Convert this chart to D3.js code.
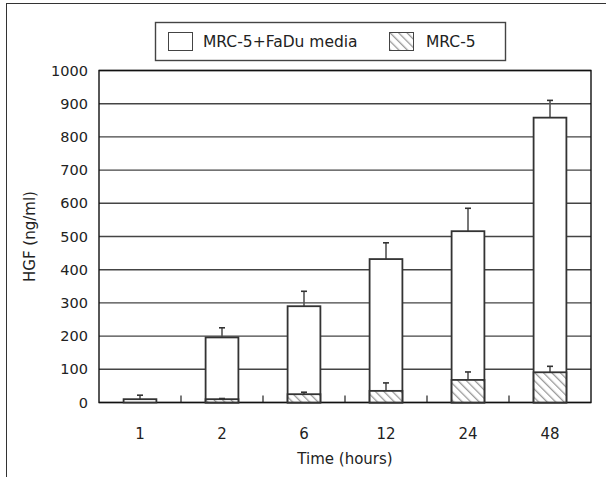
<!DOCTYPE html>
<html>
<head>
<meta charset="utf-8">
<script src="https://cdn.jsdelivr.net/npm/d3@7"></script>
<style>
  body { margin: 0; background: #fff; }
  svg { display: block; font-family: "DejaVu Sans", sans-serif; }
</style>
</head>
<body>
<div id="chart"></div>
<script>
// ========================
// Data
// ========================
const categories = ["1", "2", "6", "12", "24", "48"];
const coCultureValues = [10, 196, 290, 432, 516, 858];
const coCultureErrors = [12, 29, 45, 49, 69, 52];
const mrc5Values = [null, 10, 25, 35, 68, 91];
const mrc5Errors = [null, 2, 6, 24, 24, 18];
const yTicks = [0, 100, 200, 300, 400, 500, 600, 700, 800, 900, 1000];
const legendLabels = ["MRC-5+FaDu media", "MRC-5"];

// ========================
// Setup
// ========================
const width = 606;
const height = 477;
const plot = { left: 99, right: 591, top: 70.5, bottom: 402.5 };

const svg = d3.select("#chart").append("svg")
    .attr("width", width)
    .attr("height", height);

const defs = svg.append("defs");
const hatch = defs.append("pattern")
    .attr("id", "hatch")
    .attr("patternUnits", "userSpaceOnUse")
    .attr("width", 6)
    .attr("height", 6)
    .attr("patternTransform", "rotate(-45)");
hatch.append("rect").attr("width", 6).attr("height", 6).attr("fill", "#fff");
hatch.append("line")
    .attr("x1", 0).attr("y1", 0).attr("x2", 0).attr("y2", 6)
    .attr("stroke", "#999")
    .attr("stroke-width", 2.6);

// outer frame (runs off the right and bottom edges)
svg.append("rect")
    .attr("x", 6.5).attr("y", 3.5)
    .attr("width", 620).attr("height", 500)
    .attr("fill", "none")
    .attr("stroke", "#333")
    .attr("stroke-width", 1);

const x = d3.scaleBand()
    .domain(categories)
    .range([plot.left, plot.right])
    .paddingInner(0.6)
    .paddingOuter(0.3);

const y = d3.scaleLinear()
    .domain([0, 1000])
    .range([plot.bottom, plot.top]);

// ========================
// Grid + axes
// ========================
svg.append("g")
    .selectAll("line")
    .data(yTicks)
    .join("line")
    .attr("x1", plot.left).attr("x2", plot.right)
    .attr("y1", d => y(d)).attr("y2", d => y(d))
    .attr("stroke", "#444")
    .attr("stroke-width", 1.4);

svg.append("rect")
    .attr("x", plot.left).attr("y", y(1000))
    .attr("width", plot.right - plot.left)
    .attr("height", y(0) - y(1000))
    .attr("fill", "none")
    .attr("stroke", "#111")
    .attr("stroke-width", 1.4);

svg.append("g")
    .selectAll("text")
    .data(yTicks)
    .join("text")
    .attr("x", 88)
    .attr("y", d => y(d))
    .attr("dy", "0.35em")
    .attr("text-anchor", "end")
    .style("font-size", "14.5px")
    .attr("fill", "#222")
    .text(d => d);

// small ticks between categories, pointing up
const boundaries = categories.slice(1).map(c => x(c) - x.step() * x.paddingInner() / 2);
svg.append("g")
    .selectAll("line")
    .data(boundaries)
    .join("line")
    .attr("x1", d => d).attr("x2", d => d)
    .attr("y1", y(0)).attr("y2", y(0) - 7)
    .attr("stroke", "#222")
    .attr("stroke-width", 1.2);

svg.append("g")
    .selectAll("text")
    .data(categories)
    .join("text")
    .attr("x", d => x(d) + x.bandwidth() / 2)
    .attr("y", 439)
    .attr("text-anchor", "middle")
    .style("font-size", "15px")
    .attr("fill", "#222")
    .text(d => d);

svg.append("text")
    .attr("x", (plot.left + plot.right) / 2)
    .attr("y", 464)
    .attr("text-anchor", "middle")
    .style("font-size", "15px")
    .attr("fill", "#222")
    .text("Time (hours)");

svg.append("text")
    .attr("transform", `translate(35, ${(plot.top + plot.bottom) / 2}) rotate(-90)`)
    .attr("text-anchor", "middle")
    .style("font-size", "15px")
    .attr("fill", "#222")
    .text("HGF (ng/ml)");

// ========================
// Bars
// ========================
function drawSeries(values, errors, fill) {
    const rows = categories.map((c, i) => ({ c, v: values[i], e: errors[i] }))
        .filter(d => d.v !== null);
    const g = svg.append("g");
    const cap = 3;

    g.selectAll("line.err")
        .data(rows)
        .join("line")
        .attr("class", "err")
        .attr("x1", d => x(d.c) + x.bandwidth() / 2)
        .attr("x2", d => x(d.c) + x.bandwidth() / 2)
        .attr("y1", d => y(d.v))
        .attr("y2", d => y(d.v + d.e))
        .attr("stroke", "#555")
        .attr("stroke-width", 1.6);

    g.selectAll("line.cap")
        .data(rows)
        .join("line")
        .attr("class", "cap")
        .attr("x1", d => x(d.c) + x.bandwidth() / 2 - cap)
        .attr("x2", d => x(d.c) + x.bandwidth() / 2 + cap)
        .attr("y1", d => y(d.v + d.e))
        .attr("y2", d => y(d.v + d.e))
        .attr("stroke", "#333")
        .attr("stroke-width", 1.6);

    g.selectAll("rect")
        .data(rows)
        .join("rect")
        .attr("x", d => x(d.c))
        .attr("y", d => y(d.v))
        .attr("width", x.bandwidth())
        .attr("height", d => y(0) - y(d.v))
        .attr("fill", fill)
        .attr("stroke", "#333")
        .attr("stroke-width", 1.8);
}

drawSeries(coCultureValues, coCultureErrors, "#fff");
drawSeries(mrc5Values, mrc5Errors, "url(#hatch)");

// ========================
// Legend
// ========================
const legend = svg.append("g");
legend.append("rect")
    .attr("x", 155.5).attr("y", 22.5)
    .attr("width", 350).attr("height", 38)
    .attr("fill", "#fff")
    .attr("stroke", "#444")
    .attr("stroke-width", 1.4);

const legendItems = [
    { label: legendLabels[0], fill: "#fff", sx: 168.5, tx: 203 },
    { label: legendLabels[1], fill: "url(#hatch)", sx: 389.5, tx: 426 }
];
legendItems.forEach(item => {
    legend.append("rect")
        .attr("x", item.sx).attr("y", 32.5)
        .attr("width", 24).attr("height", 18)
        .attr("fill", item.fill)
        .attr("stroke", "#444")
        .attr("stroke-width", 1);
    legend.append("text")
        .attr("x", item.tx).attr("y", 42)
        .attr("dy", "0.35em")
        .style("font-size", "15.5px")
        .attr("fill", "#222")
        .text(item.label);
});
</script>
</body>
</html>
